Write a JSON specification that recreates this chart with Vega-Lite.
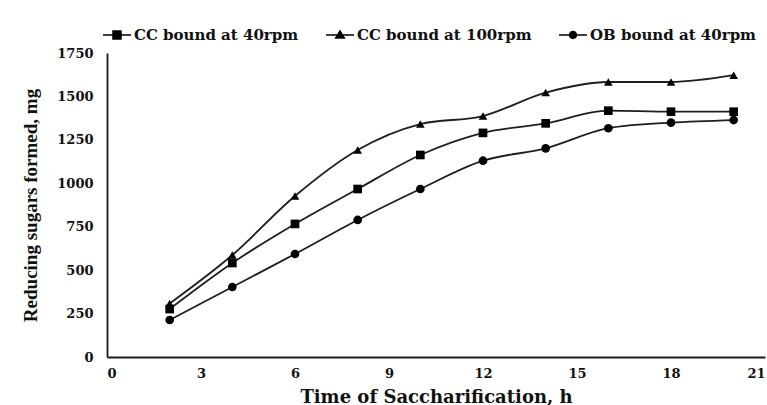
{
  "$schema": "https://vega.github.io/schema/vega-lite/v6.json",
  "autosize": "none",
  "width": 658,
  "height": 304,
  "padding": {"left": 107, "top": 53, "right": 2, "bottom": 48},
  "background": "white",
  "config": {
    "view": {"stroke": null},
    "axis": {
      "domainColor": "#1a1a1a",
      "domainWidth": 1.8,
      "ticks": false,
      "grid": false,
      "labelFont": "DejaVu Serif",
      "labelFontWeight": "bold",
      "labelFontSize": 13,
      "labelColor": "#111",
      "titleColor": "#111",
      "titleFontWeight": "bold"
    }
  },
  "data": {
    "values": [
      {"time": 2, "series": "CC bound at 40rpm", "sugars": 276},
      {"time": 4, "series": "CC bound at 40rpm", "sugars": 541},
      {"time": 6, "series": "CC bound at 40rpm", "sugars": 766},
      {"time": 8, "series": "CC bound at 40rpm", "sugars": 967},
      {"time": 10, "series": "CC bound at 40rpm", "sugars": 1163},
      {"time": 12, "series": "CC bound at 40rpm", "sugars": 1290},
      {"time": 14, "series": "CC bound at 40rpm", "sugars": 1345},
      {"time": 16, "series": "CC bound at 40rpm", "sugars": 1418},
      {"time": 18, "series": "CC bound at 40rpm", "sugars": 1412},
      {"time": 20, "series": "CC bound at 40rpm", "sugars": 1412},
      {"time": 2, "series": "CC bound at 100rpm", "sugars": 308},
      {"time": 4, "series": "CC bound at 100rpm", "sugars": 587},
      {"time": 6, "series": "CC bound at 100rpm", "sugars": 927},
      {"time": 8, "series": "CC bound at 100rpm", "sugars": 1192},
      {"time": 10, "series": "CC bound at 100rpm", "sugars": 1341},
      {"time": 12, "series": "CC bound at 100rpm", "sugars": 1387},
      {"time": 14, "series": "CC bound at 100rpm", "sugars": 1522},
      {"time": 16, "series": "CC bound at 100rpm", "sugars": 1583},
      {"time": 18, "series": "CC bound at 100rpm", "sugars": 1583},
      {"time": 20, "series": "CC bound at 100rpm", "sugars": 1622},
      {"time": 2, "series": "OB bound at 40rpm", "sugars": 213},
      {"time": 4, "series": "OB bound at 40rpm", "sugars": 403},
      {"time": 6, "series": "OB bound at 40rpm", "sugars": 593},
      {"time": 8, "series": "OB bound at 40rpm", "sugars": 789},
      {"time": 10, "series": "OB bound at 40rpm", "sugars": 967},
      {"time": 12, "series": "OB bound at 40rpm", "sugars": 1130},
      {"time": 14, "series": "OB bound at 40rpm", "sugars": 1201},
      {"time": 16, "series": "OB bound at 40rpm", "sugars": 1317},
      {"time": 18, "series": "OB bound at 40rpm", "sugars": 1349},
      {"time": 20, "series": "OB bound at 40rpm", "sugars": 1364}
    ]
  },
  "encoding": {
    "x": {
      "field": "time",
      "type": "quantitative",
      "scale": {"domain": [0, 21], "nice": false},
      "axis": {
        "values": [0, 3, 6, 9, 12, 15, 18, 21],
        "labelPadding": 10,
        "title": "Time of Saccharification, h",
        "titleFont": "DejaVu Serif",
        "titleFontSize": 18,
        "titlePadding": 8
      }
    },
    "y": {
      "field": "sugars",
      "type": "quantitative",
      "scale": {"domain": [0, 1750], "nice": false},
      "axis": {
        "values": [0, 250, 500, 750, 1000, 1250, 1500, 1750],
        "format": "d",
        "labelPadding": 14,
        "title": "Reducing sugars formed, mg",
        "titleFont": "Liberation Serif",
        "titleFontSize": 19,
        "titlePadding": 16
      }
    }
  },
  "layer": [
    {
      "mark": {"type": "line", "interpolate": "monotone", "color": "#1e1e1e", "strokeWidth": 1.8},
      "encoding": {"detail": {"field": "series"}}
    },
    {
      "mark": {"type": "point", "filled": true, "opacity": 1, "color": "black", "size": 75},
      "encoding": {
        "shape": {
          "field": "series",
          "type": "nominal",
          "scale": {
            "domain": ["CC bound at 40rpm", "CC bound at 100rpm", "OB bound at 40rpm"],
            "range": ["square", "triangle-up", "circle"]
          },
          "legend": null
        }
      }
    },
    {
      "transform": [{"filter": "datum.time > 100"}],
      "mark": {"type": "point", "filled": true, "opacity": 1, "color": "black"},
      "encoding": {
        "shape": {
          "field": "series",
          "type": "nominal",
          "scale": {
            "domain": ["CC bound at 40rpm", "CC bound at 100rpm", "OB bound at 40rpm"],
            "range": [
              "M-1,-0.06H1V0.06H-1ZM-0.34,-0.34H0.34V0.34H-0.34Z",
              "M-1,-0.06H1V0.06H-1ZM0,-0.4L0.4,0.26H-0.4Z",
              "M-1,-0.06H1V0.06H-1ZM0.3,0A0.3,0.3 0 1,1 -0.3,0A0.3,0.3 0 1,1 0.3,0Z"
            ]
          },
          "legend": {
            "orient": "none",
            "legendX": -5,
            "legendY": -33,
            "direction": "horizontal",
            "title": null,
            "padding": 0,
            "symbolSize": 784,
            "symbolFillColor": "black",
            "symbolOpacity": 1,
            "labelFont": "DejaVu Serif",
            "labelFontWeight": "bold",
            "labelFontSize": 15,
            "labelColor": "#111",
            "labelOffset": 2,
            "labelLimit": 400,
            "columnPadding": 24
          }
        }
      }
    }
  ],
  "resolve": {"scale": {"shape": "independent"}, "legend": {"shape": "independent"}}
}
